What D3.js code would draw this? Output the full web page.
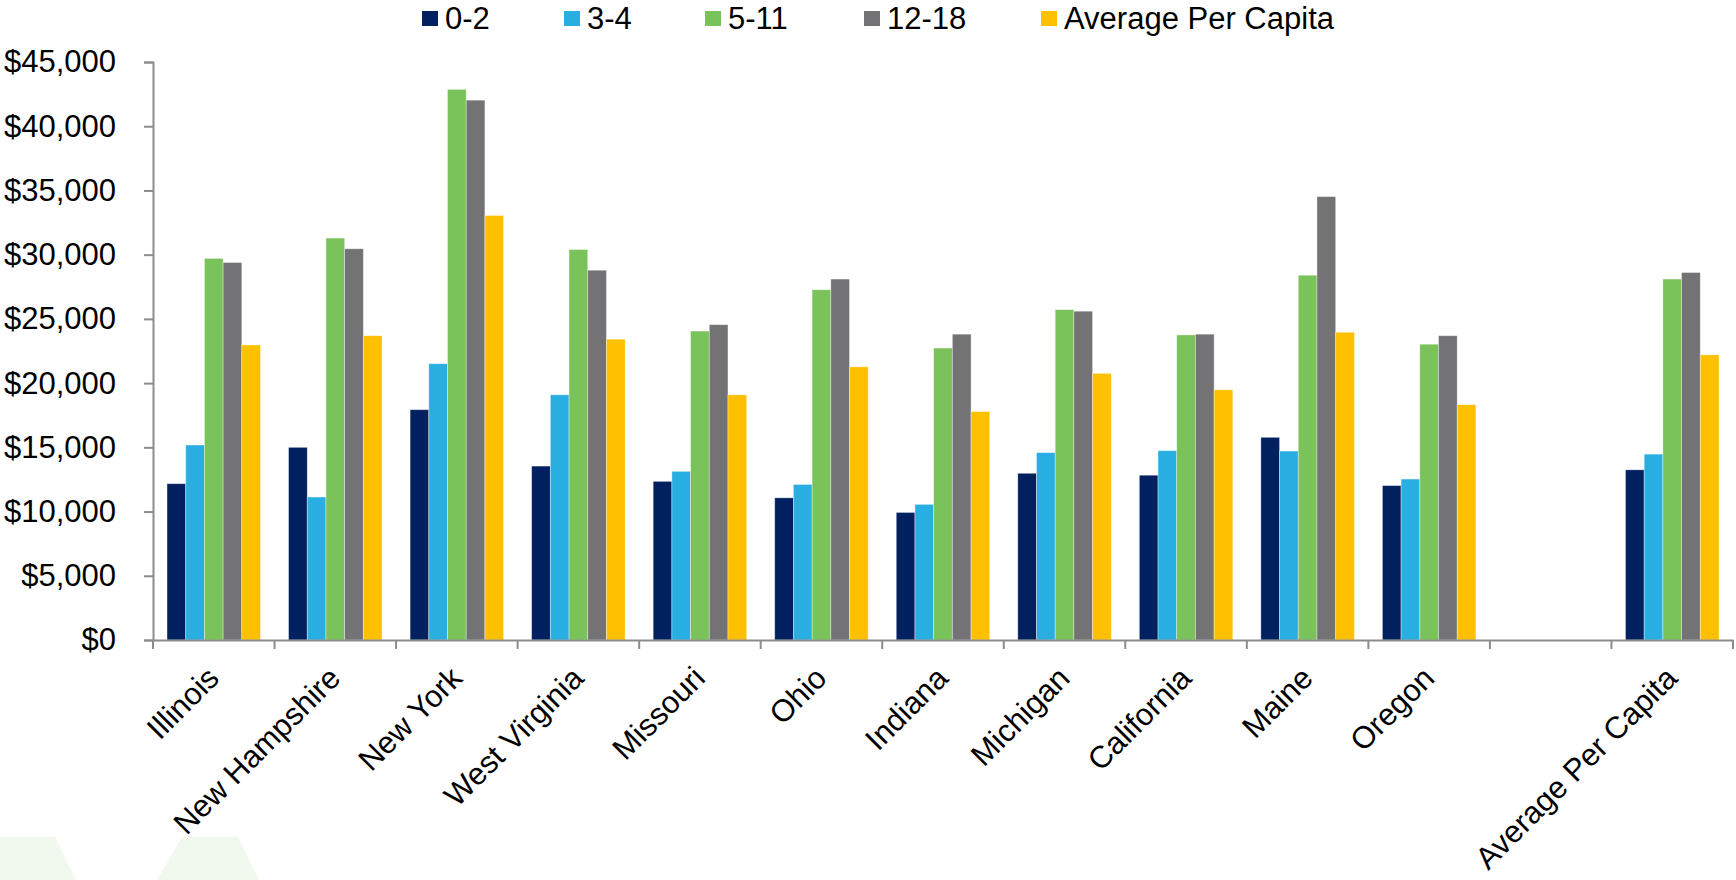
<!DOCTYPE html>
<html>
<head>
<meta charset="utf-8">
<script src="https://cdn.jsdelivr.net/npm/d3@7"></script>
<style>
  html, body { margin: 0; padding: 0; background: #ffffff; }
  svg { display: block; font-family: "Liberation Sans", Arial, sans-serif; }
</style>
</head>
<body>
<svg id="chart" width="1736" height="880"></svg>
<script>
const categories = ["Illinois", "New Hampshire", "New York", "West Virginia", "Missouri", "Ohio",
  "Indiana", "Michigan", "California", "Maine", "Oregon", "", "Average Per Capita"];
const seriesNames = ["0-2", "3-4", "5-11", "12-18", "Average Per Capita"];
const seriesColors = ["#002060", "#29AEE2", "#7AC25A", "#737375", "#FFC000"];
const age0to2   = [12170, 15000, 17930, 13540, 12350, 11070,  9930, 12980, 12830, 15780, 12020, null, 13250];
const age3to4   = [15180, 11130, 21510, 19090, 13130, 12110, 10560, 14590, 14740, 14710, 12530, null, 14470];
const age5to11  = [29710, 31290, 42870, 30400, 24050, 27270, 22730, 25720, 23750, 28400, 23030, null, 28100];
const age12to18 = [29390, 30460, 42030, 28790, 24550, 28100, 23810, 25600, 23810, 34520, 23690, null, 28610];
const avgPerCap = [22970, 23690, 33050, 23420, 19090, 21270, 17780, 20760, 19480, 23960, 18320, null, 22200];
const yTicks = [0, 5000, 10000, 15000, 20000, 25000, 30000, 35000, 40000, 45000];

(function () {
const seriesValues = [age0to2, age3to4, age5to11, age12to18, avgPerCap];
const keys = categories.map((c, i) => c === "" ? "__blank" + i : c);
const FS = 31;

const svg = d3.select("#chart");
const mLeft = 153, mRight = 1733, mTop = 62, mBottom = 640;

// decorative background shapes (bottom-left)
const bg = svg.append("g");
bg.append("polygon").attr("points", "-10,837 55,837 76,880 -10,880").attr("fill", "#F1F8EE");
bg.append("polygon").attr("points", "182,837 238,837 259,880 157,880").attr("fill", "#F1F8EE");

const x0 = d3.scaleBand().domain(keys).range([mLeft, mRight]).padding(0);
const barW = x0.bandwidth() / 6.5;
const x1 = d3.scaleBand().domain(seriesNames).range([0.75 * barW, 5.75 * barW]).padding(0);
const y = d3.scaleLinear().domain([0, 45000]).range([mBottom, mTop]);
const color = d3.scaleOrdinal().domain(seriesNames).range(seriesColors);

// bars
const groups = svg.append("g").selectAll("g")
  .data(keys)
  .join("g")
  .attr("transform", d => `translate(${x0(d)},0)`);

groups.selectAll("rect")
  .data((d, i) => seriesNames.map((s, j) => ({ s, v: seriesValues[j][i] })).filter(e => e.v != null))
  .join("rect")
  .attr("x", d => x1(d.s))
  .attr("y", d => y(d.v))
  .attr("width", x1.bandwidth())
  .attr("height", d => y(0) - y(d.v))
  .attr("fill", d => color(d.s))
  .attr("stroke", "rgba(255,255,255,0.45)")
  .attr("stroke-width", 0.8);

// y axis
const yAxis = d3.axisLeft(y).tickValues(yTicks).tickSize(9).tickPadding(28)
  .tickFormat(d => "$" + d3.format(",")(d));
const gy = svg.append("g").attr("transform", `translate(${mLeft},0)`).call(yAxis);
gy.select(".domain").attr("stroke", "#8C8C8C").attr("stroke-width", 2);
gy.selectAll(".tick line").attr("stroke", "#8C8C8C").attr("stroke-width", 2);
gy.selectAll(".tick text").attr("font-size", FS).attr("fill", "#000")
  .attr("font-family", "'Liberation Sans', Arial, sans-serif");

// x axis
const xAxis = d3.axisBottom(x0).tickSize(0).tickFormat(d => d.startsWith("__blank") ? "" : d);
const gx = svg.append("g").attr("transform", `translate(0,${mBottom})`).call(xAxis);
gx.select(".domain").attr("stroke", "#8C8C8C").attr("stroke-width", 2);
gx.selectAll(".tick line").remove();
gx.selectAll(".tick text")
  .attr("font-size", FS).attr("fill", "#000")
  .attr("font-family", "'Liberation Sans', Arial, sans-serif")
  .attr("text-anchor", "end")
  .attr("dy", 0).attr("y", 0)
  .attr("transform", `translate(7,40) rotate(-45)`);
// boundary tick marks
const bounds = keys.map(k => x0(k)).concat([mRight]);
gx.selectAll(".btick").data(bounds).join("line")
  .attr("class", "btick")
  .attr("x1", d => d).attr("x2", d => d)
  .attr("y1", 0).attr("y2", 9)
  .attr("stroke", "#8C8C8C").attr("stroke-width", 2);

// legend
const legendX = [422, 564, 705, 864, 1041];
const lg = svg.append("g");
seriesNames.forEach((s, i) => {
  const g = lg.append("g").attr("transform", `translate(${legendX[i]},0)`);
  g.append("rect").attr("x", 0).attr("y", 11).attr("width", 16).attr("height", 15).attr("fill", color(s));
  g.append("text").attr("x", 23).attr("y", 29).attr("font-size", FS).attr("fill", "#000").text(s);
});
})();
</script>
</body>
</html>
